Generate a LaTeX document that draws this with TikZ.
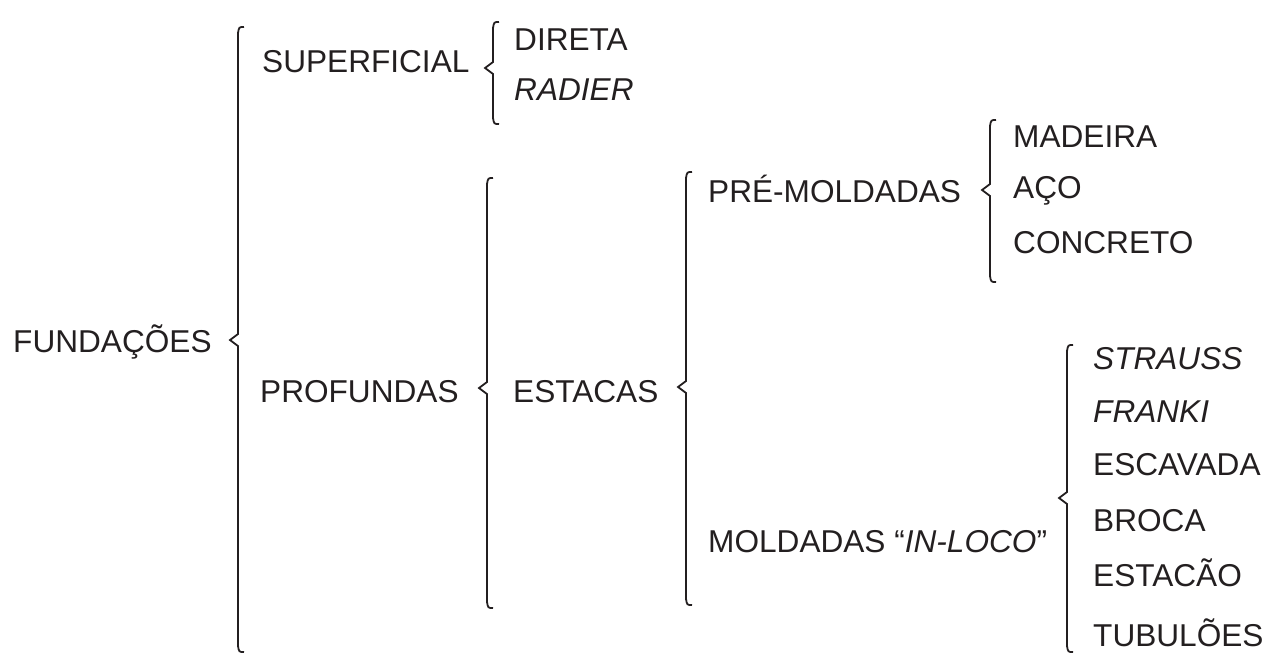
\documentclass[tikz,border=0pt]{standalone}
\usepackage{fontspec}
\setmainfont{Liberation Sans}
\definecolor{ink}{RGB}{35,31,32}
\newcommand\mybrace[4]{%
  \draw[bracestyle] (#1+6,#2) .. controls (#1+1,#2) .. (#1,#2+6) -- (#1,#3-6) -- (#1-8,#3) -- (#1,#3+6) -- (#1,#4-6) .. controls (#1+1,#4) .. (#1+6,#4);}
\begin{document}
\begin{tikzpicture}[x=1pt,y=-1pt,
  lbl/.style={anchor=base west,inner sep=0pt,text=ink,font=\fontsize{31.6}{38}\selectfont},
  bracestyle/.style={draw=ink,line width=1.8pt,line join=miter}]
\useasboundingbox (0,0) rectangle (1281,653);
% braces
\mybrace{238}{27}{340}{652}
\mybrace{493}{22}{68}{124}
\mybrace{487}{178}{388}{608}
\mybrace{686}{172}{387}{605}
\mybrace{990}{120}{190}{282}
\mybrace{1067}{345}{498}{652}
% labels
\node[lbl] (fund) at (13,352) {FUNDAÇÕES};
\node[lbl] (sup) at (262,72) {SUPERFICIAL};
\node[lbl] (dir) at (514,50) {DIRETA};
\node[lbl] (rad) at (514,100) {\textit{RADIER}};
\node[lbl] (prof) at (260,402) {PROFUNDAS};
\node[lbl] (est) at (513,402) {ESTACAS};
\node[lbl] (pre) at (708,202) {PRÉ-MOLDADAS};
\node[lbl] (mad) at (1013,147) {MADEIRA};
\node[lbl] (aco) at (1013,198) {AÇO};
\node[lbl] (con) at (1013,253) {CONCRETO};
\node[lbl] (mol) at (708,552) {MOLDADAS “\textit{IN-LOCO}”};
\node[lbl] (str) at (1093,369) {\textit{STRAUSS}};
\node[lbl] (fra) at (1093,422) {\textit{FRANKI}};
\node[lbl] (esc) at (1093,475) {ESCAVADA};
\node[lbl] (bro) at (1093,531) {BROCA};
\node[lbl] (etc) at (1093,586) {ESTACÃO};
\node[lbl] (tub) at (1093,646) {TUBULÕES};
\end{tikzpicture}
\end{document}
